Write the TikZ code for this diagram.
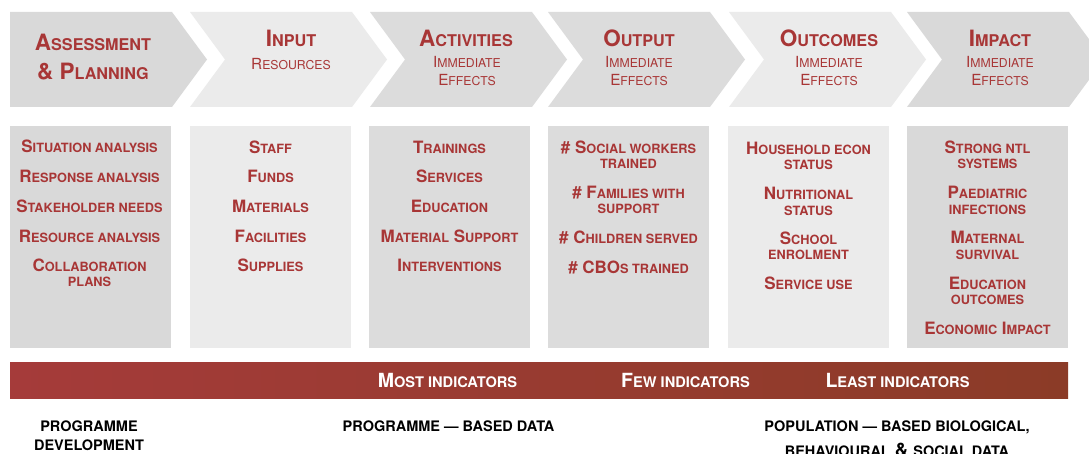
\documentclass[tikz,border=0pt]{standalone}
\usepackage{fontspec}
\setmainfont{TeX Gyre Heros}
\makeatletter
\newcommand\lc[2][0.75]{{\fontsize{\fpeval{#1*\f@size}}{\f@baselineskip}\selectfont\MakeUppercase{#2}}}
\makeatother
\definecolor{accent}{HTML}{A83636}
\definecolor{gdark}{HTML}{D9D9D9}
\definecolor{gmid}{HTML}{DCDCDC}
\definecolor{glight}{HTML}{EBEBEB}
\definecolor{barL}{HTML}{A53B3A}
\definecolor{barR}{HTML}{8B3B27}
\tikzset{
  hd/.style={anchor=base,inner sep=0pt,text=accent,font=\fontsize{22.5}{22.5}\selectfont\bfseries},
  sub/.style={anchor=base,inner sep=0pt,text=accent,font=\fontsize{15.3}{15.3}\selectfont},
  item/.style={anchor=base,inner sep=0pt,text=accent,font=\fontsize{17}{17}\selectfont\bfseries},
  bartxt/.style={anchor=base,inner sep=0pt,text=white,font=\fontsize{19.5}{19.5}\selectfont\bfseries},
  foot/.style={anchor=base,inner sep=0pt,text=black,font=\fontsize{14.5}{14.5}\selectfont\bfseries},
}
\begin{document}
\begin{tikzpicture}[x=1pt,y=-1pt]
\useasboundingbox (0,0) rectangle (1089,454);
\fill[white] (0,0) rectangle (1089,454);
% chevrons
\fill[gdark] (10,12) -- (172,12) -- (207,59.5) -- (172,107) -- (10,107) -- cycle;
\foreach \L/\c in {190/glight,370/gmid,548/gmid,729/glight,907/gdark}{
  \fill[\c] (\L,12) -- ({\L+162},12) -- ({\L+197},59.5) -- ({\L+162},107) -- (\L,107) -- ({\L+35},59.5) -- cycle;
}
% boxes
\foreach \L/\c in {10/gdark,190/glight,369/gmid,548/gmid,728/glight,907/gdark}{
  \fill[\c] (\L,126) rectangle ({\L+161},348);
}
% headers
\node[hd] (hA1) at (93,50.7) {A\lc[0.72]{ssessment}};
\node[hd] (hA2) at (93,80) {\& P\lc[0.72]{lanning}};
\node[hd] (hI1) at (291,46.7) {I\lc[0.72]{nput}};
\node[sub] (hI2) at (291,69.3) {R\lc[0.8]{esources}};
\node[hd] (hC1) at (466,46.5) {A\lc[0.72]{ctivities}};
\node[sub] (hC2) at (467,67.5) {I\lc[0.8]{mmediate}};
\node[sub] (hC3) at (467,85.5) {E\lc[0.8]{ffects}};
\node[hd] (hO1) at (639,46.5) {O\lc[0.72]{utput}};
\node[sub] (hO2) at (639,67.5) {I\lc[0.8]{mmediate}};
\node[sub] (hO3) at (639,85.5) {E\lc[0.8]{ffects}};
\node[hd] (hU1) at (829,46.5) {O\lc[0.72]{utcomes}};
\node[sub] (hU2) at (829,67.5) {I\lc[0.8]{mmediate}};
\node[sub] (hU3) at (829,85.5) {E\lc[0.8]{ffects}};
\node[hd] (hM1) at (1000,46.5) {I\lc[0.72]{mpact}};
\node[sub] (hM2) at (1000,67.5) {I\lc[0.8]{mmediate}};
\node[sub] (hM3) at (1000,85.5) {E\lc[0.8]{ffects}};
% box 1
\node[item] (a1) at (89.5,153) {S\lc{ituation analysis}};
\node[item] (a2) at (89.5,183) {R\lc{esponse analysis}};
\node[item] (a3) at (89.5,212.5) {S\lc{takeholder needs}};
\node[item] (a4) at (89.5,242.5) {R\lc{esource analysis}};
\node[item] (a5) at (89.5,272) {C\lc{ollaboration}};
\node[item] (a6) at (89.5,287) {\lc{plans}};
% box 2
\node[item] (b1) at (270.5,153.5) {S\lc{taff}};
\node[item] (b2) at (270.5,183) {F\lc{unds}};
\node[item] (b3) at (270.5,213) {M\lc{aterials}};
\node[item] (b4) at (270.5,242.5) {F\lc{acilities}};
\node[item] (b5) at (270.5,272) {S\lc{upplies}};
% box 3
\node[item] (c1) at (449.5,153.5) {T\lc{rainings}};
\node[item] (c2) at (449.5,183) {S\lc{ervices}};
\node[item] (c3) at (449.5,213) {E\lc{ducation}};
\node[item] (c4) at (449.5,242.5) {M\lc{aterial} S\lc{upport}};
\node[item] (c5) at (449.5,272) {I\lc{nterventions}};
% box 4
\node[item] (d1) at (628.5,153.3) {\# S\lc{ocial workers}};
\node[item] (d2) at (628.5,168.7) {\lc{trained}};
\node[item] (d3) at (628.5,199) {\# F\lc{amilies with}};
\node[item] (d4) at (628.5,213.5) {\lc{support}};
\node[item] (d5) at (628.5,244) {\# C\lc{hildren served}};
\node[item] (d6) at (628.5,273) {\# CBO\lc{s trained}};
% box 5
\node[item] (e1) at (808.5,154.5) {H\lc{ousehold econ}};
\node[item] (e2) at (808.5,170) {\lc{status}};
\node[item] (e3) at (808.5,200) {N\lc{utritional}};
\node[item] (e4) at (808.5,215.5) {\lc{status}};
\node[item] (e5) at (808.5,245) {S\lc{chool}};
\node[item] (e6) at (808.5,260) {\lc{enrolment}};
\node[item] (e7) at (808.5,290) {S\lc{ervice use}};
% box 6
\node[item] (f1) at (987.5,154) {S\lc{trong ntl}};
\node[item] (f2) at (987.5,169) {\lc{systems}};
\node[item] (f3) at (987.5,199) {P\lc{aediatric}};
\node[item] (f4) at (987.5,214.3) {\lc{infections}};
\node[item] (f5) at (987.5,244) {M\lc{aternal}};
\node[item] (f6) at (987.5,259.3) {\lc{survival}};
\node[item] (f7) at (987.5,289.5) {E\lc{ducation}};
\node[item] (f8) at (987.5,304.3) {\lc{outcomes}};
\node[item] (f9) at (987.5,334.3) {E\lc{conomic} I\lc{mpact}};
% bar
\shade[left color=barL,right color=barR] (10,362) rectangle (1068,398);
\node[bartxt] (m1) at (447.5,387) {M\lc{ost indicators}};
\node[bartxt] (m2) at (685.5,387) {F\lc{ew indicators}};
\node[bartxt] (m3) at (897.5,387) {L\lc{east indicators}};
% footer
\node[foot] (p1) at (89,431) {PROGRAMME};
\node[foot] (p2) at (89,450) {DEVELOPMENT};
\node[foot] (p3) at (448.5,431) {PROGRAMME --- BASED DATA};
\node[foot] (p4) at (897,431) {POPULATION --- BASED BIOLOGICAL,};
\node[foot,font=\fontsize{18.5}{18.5}\selectfont\bfseries] (p5) at (897,456) {\lc[0.78]{behavioural} \& \lc[0.78]{social data}};
\end{tikzpicture}
\end{document}
